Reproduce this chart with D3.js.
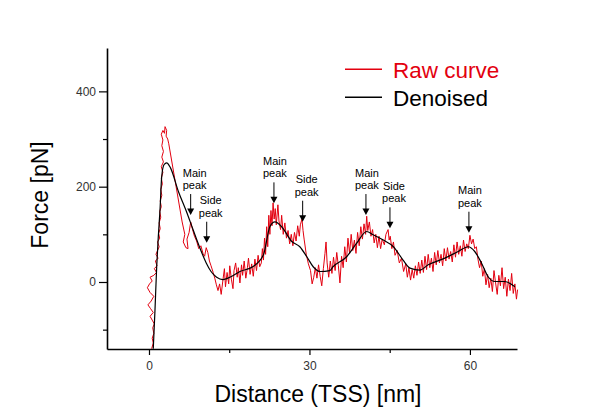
<!DOCTYPE html>
<html>
<head>
<meta charset="utf-8">
<script src="https://cdn.jsdelivr.net/npm/d3@7/dist/d3.min.js"></script>
<style>
  html, body { margin: 0; padding: 0; background: #fff; }
  svg { display: block; }
  text { font-family: "Liberation Sans", Arial, Helvetica, sans-serif; }
</style>
</head>
<body>
<svg id="chart" width="600" height="419"></svg>
<script>
// ---------- data ----------
const xTicksMajor = [0, 30, 60];
const xTicksMinor = [15, 45];
const yTicksMajor = [0, 200, 400];
const yTicksMinor = [-100, 100, 300];

const seriesNames = ["Raw curve", "Denoised"];

// raw force-distance curve [distance nm, force pN]
const rawCurve = [
  [0.5,-140],[0.8,-128],[0.6,-118],[0.9,-108],[0.7,-96],[1.0,-88],[0.6,-80],[0.2,-72],[0.8,-64],[0.3,-56],
  [-0.2,-48],[0.4,-40],[0.9,-30],[0.2,-22],[-0.3,-12],[0.1,-4],[0.6,2],[0.2,10],[0.9,14],[1.4,20],
  [1.0,28],[1.5,34],[1.2,44],[1.7,50],[1.3,58],[1.6,66],[1.9,74],[1.6,84],[2.0,92],[1.8,102],
  [2.1,112],[1.9,124],[2.2,136],[2.0,148],[2.3,158],[2.1,170],[2.4,182],[2.2,194],[2.5,206],[2.3,218],
  [2.6,230],[2.3,242],[2.7,252],[2.4,262],[2.7,274],[2.4,286],[2.6,298],[2.3,310],[2.6,318],[2.9,312],
  [3.0,326],[3.3,318],[3.2,306],[3.5,300],[3.7,290],
  [6.2,126],[6.7,100],[6.4,84],[6.9,72],[7.3,70],[7.1,90],[7.5,104],[7.8,126],[8.1,112],[8.5,96],
  [8.9,86],[9.3,70],[9.7,76],[10.1,60],[10.4,54],[10.7,72],[11.0,62],[11.3,44],[11.6,34],[12.0,20],
  [12.3,8],[12.6,-6],[12.9,-18],[13.2,-4],[13.5,-26],[13.8,2],
  [14.1,28],[14.3,-10],[14.6,20],[14.9,-4],[15.1,34],[15.4,6],[15.7,-14],[15.9,24],[16.2,40],[16.5,10],
  [16.7,30],[17.0,-2],[17.3,36],[17.5,14],[17.8,44],[18.1,8],[18.4,30],[18.6,50],[18.9,16],[19.2,38],
  [19.5,12],[19.8,48],[20.1,24],[20.4,56],[20.7,32],
  [21.0,40],[21.2,70],[21.4,46],[21.6,92],[21.8,58],[22.0,116],[22.2,74],[22.4,140],[22.6,100],[22.8,150],
  [23.0,118],[23.2,166],[23.4,132],[23.6,154],[23.8,120],[24.1,162],[24.3,128],[24.6,110],[24.8,140],[25.1,100],
  [25.4,124],[25.7,92],[26.0,108],[26.3,80],[26.6,100],[26.9,76],[27.2,104],[27.5,86],[27.8,118],[28.1,96],
  [28.3,120],[28.6,132],[28.8,108],[29.0,90],[29.4,58],[29.8,38],[30.2,24],[30.5,-4],[30.8,10],
  [31.1,30],[31.4,8],[31.7,36],[32.0,12],[32.3,-8],[32.6,28],[32.9,60],[33.1,84],[33.3,40],[33.6,10],
  [33.9,44],[34.2,18],[34.5,52],[34.8,24],[35.1,62],[35.4,34],[35.7,-2],[36.0,54],[36.3,30],[36.6,74],
  [36.9,42],[37.2,92],[37.5,60],[37.8,100],[38.1,66],[38.4,88],[38.7,60],[39.0,104],[39.3,76],[39.6,116],
  [39.9,90],[40.2,122],[40.5,100],[40.7,138],[40.9,108],[41.2,126],[41.5,96],[41.8,110],[42.1,82],[42.4,100],
  [42.7,72],[43.0,96],[43.3,70],[43.6,90],[44.0,78],[44.3,100],[44.7,110],[44.9,88],[45.1,96],[45.4,70],
  [45.7,84],[46.0,56],[46.4,66],[46.8,40],[47.2,50],[47.6,22],[48.0,38],[48.3,10],[48.6,30],[48.9,4],
  [49.2,26],[49.5,8],[49.8,34],[50.1,14],[50.4,42],[50.7,18],[51.0,46],[51.3,20],[51.6,54],[51.9,26],
  [52.2,58],[52.5,30],[52.8,50],[53.1,22],[53.4,62],[53.7,36],[54.0,66],[54.3,40],[54.6,58],[54.9,34],
  [55.2,70],[55.5,44],[55.8,72],[56.1,48],[56.4,64],[56.7,42],[57.0,78],[57.3,52],[57.6,84],[57.9,58],
  [58.2,76],[58.5,54],[58.8,88],[59.1,64],[59.4,80],[59.7,70],[60.0,98],[60.3,80],[60.6,90],[60.9,70],
  [61.2,74],[61.5,48],[61.8,30],[62.1,44],[62.4,12],[62.7,28],[63.0,-6],[63.3,16],[63.6,-12],[63.9,8],
  [64.2,-20],[64.5,24],[64.8,-2],[65.1,-26],[65.4,14],[65.7,-8],[66.0,30],[66.3,-14],[66.6,10],[66.9,-30],
  [67.2,6],[67.5,-18],[67.8,18],[68.1,-24],[68.4,-4],[68.7,-36],[68.9,-16]
];

// denoised curve [distance nm, force pN]
const denoisedCurve = [
  [0.8,-140],[1.12,-59],[1.44,32],[1.74,95],[2.06,151],[2.37,220],[2.8,246],[3.3,250],[4.0,240],
  [5.5,190],[7.0,148],[8.3,108],[9.5,72],[10.7,40],[11.6,22],[12.65,10],[13.8,5],[15.5,12],[17.0,22],
  [19.4,32],[21.4,57],[22.6,116],[23.55,126],[24.8,116],[26.7,85],[28.2,74],[29.5,53],[30.7,32],[32.0,22],
  [33.8,24],[34.4,32],[36.95,53],[38.8,81],[40.7,106],[41.9,99],[43.8,88],[45.7,74],[47.5,46],[48.8,29],
  [50.65,25],[52.2,36],[55.3,50],[57.8,64],[59.7,74],[60.9,64],[62.2,39],[63.4,11],[64.7,1],[66.5,1],[68.4,-10]
];

// peak annotations: label, arrow tip (distance, force)
const annotLabels = ["Main peak","Side peak","Main peak","Side peak","Main peak","Side peak","Main peak"];
const annotX = [7.79, 10.79, 23.36, 28.73, 40.56, 45.05, 59.81];
const annotY = [140.5, 82.4, 165, 126.5, 140.5, 112.6, 103.4];

// ---------- chart ----------
const svg = d3.select("#chart");
const x = d3.scaleLinear().domain([-7.85, 68.8]).range([107, 517]);
const y = d3.scaleLinear().domain([-140.6, 491]).range([349, 48]);

const colorRaw = "#e3000f";
const colorDen = "#000";

// axes
const yAxis = svg.append("g").attr("transform", `translate(${x.range()[0]},0)`)
  .call(d3.axisLeft(y).tickValues(yTicksMajor).tickSize(8).tickPadding(3).tickSizeOuter(0));
const yAxisMinor = svg.append("g").attr("transform", `translate(${x.range()[0]},0)`)
  .call(d3.axisLeft(y).tickValues(yTicksMinor).tickSize(4).tickFormat("").tickSizeOuter(0));
const xAxis = svg.append("g").attr("transform", `translate(0,${y.range()[0]})`)
  .call(d3.axisBottom(x).tickValues(xTicksMajor).tickSize(6).tickPadding(6).tickSizeOuter(0));
const xAxisMinor = svg.append("g").attr("transform", `translate(0,${y.range()[0]})`)
  .call(d3.axisBottom(x).tickValues(xTicksMinor).tickSize(4).tickFormat("").tickSizeOuter(0));

[yAxis, yAxisMinor, xAxis, xAxisMinor].forEach(g => {
  g.select(".domain").attr("stroke", "#000").attr("stroke-width", 1.6);
  g.selectAll(".tick line").attr("stroke", "#000").attr("stroke-width", 1.2);
  g.selectAll(".tick text").attr("font-size", 12).attr("fill", "#333")
    .attr("font-family", '"Liberation Sans", Arial, sans-serif');
});
yAxisMinor.select(".domain").remove();
xAxisMinor.select(".domain").remove();

// curves
const line = d3.line().x(d => x(d[0])).y(d => y(d[1]));
svg.append("path").datum(rawCurve)
  .attr("d", line).attr("fill", "none").attr("stroke", colorRaw).attr("stroke-width", 1)
  .attr("stroke-linejoin", "round");
svg.append("path").datum(denoisedCurve)
  .attr("d", line.curve(d3.curveMonotoneX)).attr("fill", "none")
  .attr("stroke", colorDen).attr("stroke-width", 1.2);

// annotations
const ann = svg.append("g");
annotLabels.forEach((lab, i) => {
  const px = x(annotX[i]), py = y(annotY[i]);
  const words = lab.split(" ");
  const isMain = words[0] === "Main";
  const t = ann.append("text").attr("font-size", 11).attr("fill", "#000")
    .attr("x", px + (isMain ? (i === 0 ? 4 : 1) : 4)).attr("y", py - 38.5).attr("text-anchor", "middle");
  t.append("tspan").text(words[0]);
  t.append("tspan").attr("x", px + (isMain ? (i === 0 ? 4 : 1) : 4)).attr("dy", 12.5).text(words[1]);
  ann.append("line").attr("x1", px).attr("x2", px).attr("y1", py - 21).attr("y2", py - 5)
    .attr("stroke", "#000").attr("stroke-width", 1);
  ann.append("path").attr("d", `M${px-3.5},${py-6.5} L${px+3.5},${py-6.5} L${px},${py} Z`)
    .attr("fill", "#000");
});

// legend
const leg = svg.append("g");
const legColors = [colorRaw, colorDen];
const legY = [69.3, 97.3];
seriesNames.forEach((name, i) => {
  leg.append("line").attr("x1", 345).attr("x2", 382).attr("y1", legY[i]).attr("y2", legY[i])
    .attr("stroke", legColors[i]).attr("stroke-width", 1.4);
  leg.append("text").attr("x", 393).attr("y", legY[i] + 8.5).attr("font-size", 22.5)
    .attr("fill", legColors[i]).text(name);
});

// axis titles
svg.append("text").attr("x", 318).attr("y", 401.5).attr("text-anchor", "middle")
  .attr("font-size", 23).attr("fill", "#000").text("Distance (TSS) [nm]");
svg.append("text").attr("transform", "translate(48,195) rotate(-90)").attr("text-anchor", "middle")
  .attr("font-size", 23).attr("fill", "#000").text("Force [pN]");
</script>
</body>
</html>
